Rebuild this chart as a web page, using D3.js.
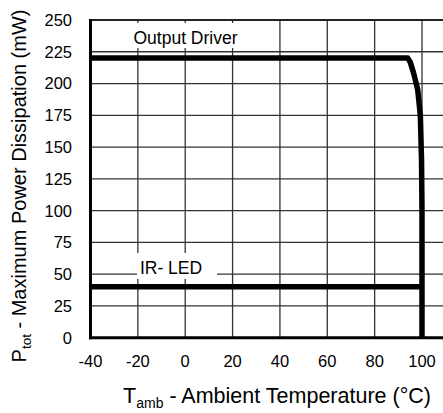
<!DOCTYPE html>
<html>
<head>
<meta charset="utf-8">
<script src="https://cdn.jsdelivr.net/npm/d3@7"></script>
<style>
  body { margin: 0; background: white; }
  svg { display: block; font-family: "Liberation Sans", Arial, sans-serif; }
</style>
</head>
<body>
<script>
const xTicks = [-40, -20, 0, 20, 40, 60, 80, 100];
const yTicks = [0, 25, 50, 75, 100, 125, 150, 175, 200, 225, 250];

// output driver derating curve (Tamb °C, Ptot mW)
const driverT = [-40, 94, 95, 96.5, 98.2, 99.3, 99.8, 100, 100];
const driverP = [220, 220, 217, 208, 195, 175, 140, 100, -1];

// IR LED derating curve
const ledT = [-40, 100];
const ledP = [40, 40];

const width = 443, height = 413;

const x = d3.scaleLinear().domain([-40, 100]).range([90.5, 422]);
const y = d3.scaleLinear().domain([0, 250]).range([337.7, 20]);

const svg = d3.select("body").append("svg")
    .attr("width", width)
    .attr("height", height);

// grid
const grid = svg.append("g")
    .attr("stroke", "#333")
    .attr("stroke-width", 1.3);

grid.selectAll("line.h")
  .data(yTicks)
  .enter().append("line")
    .attr("x1", x(-40)).attr("x2", width + 5)
    .attr("y1", d => y(d)).attr("y2", d => y(d));

grid.selectAll("line.v")
  .data(xTicks.slice(1))
  .enter().append("line")
    .attr("x1", d => x(d)).attr("x2", d => x(d))
    .attr("y1", y(250)).attr("y2", y(0));

// label boxes that mask the grid
function label(text, cx, baseline, box) {
  svg.append("rect")
      .attr("x", box[0]).attr("y", box[1])
      .attr("width", box[2]).attr("height", box[3])
      .attr("fill", "white");
  svg.append("text")
      .attr("x", cx).attr("y", baseline)
      .attr("text-anchor", "middle")
      .attr("font-size", 17.5)
      .text(text);
}
label("Output Driver", 185.5, 44, [125, 23, 120, 25]);
label("IR- LED", 171, 274, [137, 253, 80, 26]);

// frame
svg.append("line")
    .attr("x1", x(-40)).attr("x2", width + 5)
    .attr("y1", y(250)).attr("y2", y(250))
    .attr("stroke", "#222").attr("stroke-width", 2);
svg.append("line")
    .attr("x1", x(-40)).attr("x2", x(-40))
    .attr("y1", y(250) - 1).attr("y2", y(0) + 1.5)
    .attr("stroke", "black").attr("stroke-width", 3);
svg.append("line")
    .attr("x1", x(-40) - 1.5).attr("x2", width + 5)
    .attr("y1", y(0)).attr("y2", y(0))
    .attr("stroke", "black").attr("stroke-width", 3);

// curves
const line = d3.line()
    .x(d => x(d[0]))
    .y(d => y(d[1]));

svg.append("path")
    .datum(d3.zip(driverT, driverP))
    .attr("d", line)
    .attr("fill", "none")
    .attr("stroke", "black")
    .attr("stroke-width", 5.5)
    .attr("stroke-linejoin", "round");

svg.append("path")
    .datum(d3.zip(ledT, ledP))
    .attr("d", line)
    .attr("fill", "none")
    .attr("stroke", "black")
    .attr("stroke-width", 5.5);

// tick labels
svg.append("g")
    .attr("font-size", 16.5)
    .attr("text-anchor", "end")
  .selectAll("text")
  .data(yTicks)
  .enter().append("text")
    .attr("x", 72)
    .attr("y", d => y(d))
    .attr("dy", "0.36em")
    .text(d => d);

svg.append("g")
    .attr("font-size", 16.5)
    .attr("text-anchor", "middle")
  .selectAll("text")
  .data(xTicks)
  .enter().append("text")
    .attr("x", d => x(d))
    .attr("y", 367)
    .text(d => d);

// axis titles
const xt = svg.append("text")
    .attr("x", 277)
    .attr("y", 403)
    .attr("text-anchor", "middle")
    .attr("font-size", 21.5);
xt.append("tspan").text("T");
xt.append("tspan").attr("font-size", 14).attr("dy", 5).text("amb");
xt.append("tspan").attr("dy", -5).text(" - Ambient Temperature (°C)");

const yt = svg.append("text")
    .attr("transform", "translate(26,186) rotate(-90)")
    .attr("text-anchor", "middle")
    .attr("font-size", 20);
yt.append("tspan").text("P");
yt.append("tspan").attr("font-size", 13.5).attr("dy", 5).text("tot");
yt.append("tspan").attr("dy", -5).text(" - Maximum Power Dissipation (mW)");
</script>
</body>
</html>
